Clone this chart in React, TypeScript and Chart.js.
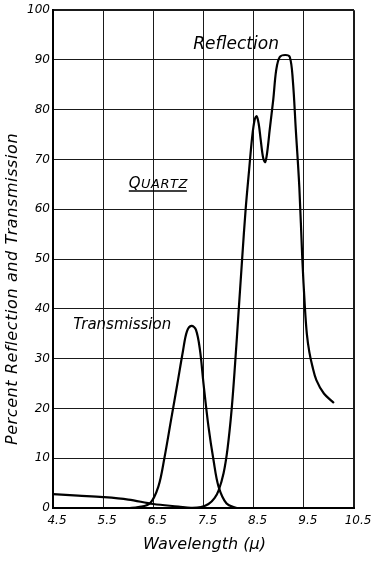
import React, { useEffect, useRef } from "react";
import { Chart, registerables } from "chart.js";

Chart.register(...registerables);

// Reflection curve (wavelength in microns, percent)
const reflX = [4.5, 5.0, 5.5, 6.0, 6.5, 7.0, 7.25, 7.45, 7.6, 7.72, 7.8, 7.9, 7.98, 8.06, 8.13, 8.2, 8.27, 8.34, 8.41, 8.47, 8.52, 8.56, 8.6, 8.64, 8.69, 8.73, 8.77, 8.82, 8.89, 8.95, 9.02, 9.13, 9.22, 9.28, 9.34, 9.41, 9.47, 9.52, 9.56, 9.61, 9.67, 9.75, 9.9, 10.1];
const reflY = [2.8, 2.5, 2.2, 1.7, 0.8, 0.3, 0.05, 0.2, 0.8, 2.0, 3.5, 7, 12, 19.7, 29, 39.5, 50, 60, 68, 74.5, 78, 78.7, 77.2, 74, 70.3, 69.5, 71.5, 76, 82, 88, 90.6, 91, 90.6, 86, 76, 64.5, 50, 40.5, 35, 31.3, 28.5, 25.7, 23, 21.1];

// Transmission curve
const transX = [6.0, 6.2, 6.43, 6.6, 6.72, 6.85, 6.98, 7.09, 7.17, 7.26, 7.35, 7.43, 7.5, 7.6, 7.7, 7.8, 7.96, 8.16];
const transY = [0, 0.2, 0.9, 4.3, 10, 17.5, 25, 31.5, 35.5, 36.6, 35.8, 31.7, 25, 16.3, 9.6, 4.3, 0.9, 0];

const xTicks = [4.5, 5.5, 6.5, 7.5, 8.5, 9.5, 10.5];
const yTicks = [0, 10, 20, 30, 40, 50, 60, 70, 80, 90, 100];

const FONT = "'DejaVu Sans', 'Liberation Sans', sans-serif";

const textPlugin = {
  id: "annotText",
  afterDraw(chart: any) {
    const ctx = chart.ctx as CanvasRenderingContext2D;
    const xs = chart.scales.x;
    const ys = chart.scales.y;
    const area = chart.chartArea;
    ctx.save();
    ctx.fillStyle = "#000";
    ctx.strokeStyle = "#000";
    ctx.textAlign = "center";
    ctx.textBaseline = "middle";

    // Reflection
    ctx.font = `oblique 17px ${FONT}`;
    ctx.fillText("Reflection", xs.getPixelForValue(8.15), ys.getPixelForValue(93.1));

    // Transmission
    ctx.font = `oblique 15px ${FONT}`;
    ctx.fillText("Transmission", xs.getPixelForValue(5.88), ys.getPixelForValue(36.7));

    // QUARTZ (small caps, underlined)
    const cx = xs.getPixelForValue(6.6);
    const by = ys.getPixelForValue(64.2);
    ctx.textAlign = "left";
    ctx.textBaseline = "alphabetic";
    (ctx as any).letterSpacing = "0.5px";
    ctx.font = `oblique 15px ${FONT}`;
    const wQ = ctx.measureText("Q").width;
    ctx.font = `oblique 13px ${FONT}`;
    const wR = ctx.measureText("UARTZ").width;
    const total = wQ + wR;
    const sx = cx - total / 2;
    ctx.font = `oblique 15px ${FONT}`;
    ctx.fillText("Q", sx, by);
    ctx.font = `oblique 13px ${FONT}`;
    ctx.fillText("UARTZ", sx + wQ, by);
    ctx.lineWidth = 1.5;
    ctx.beginPath();
    ctx.moveTo(sx, by + 2.5);
    ctx.lineTo(sx + total - 1, by + 2.5);
    ctx.stroke();
    (ctx as any).letterSpacing = "0px";

    // X axis title
    ctx.textAlign = "center";
    ctx.textBaseline = "middle";
    ctx.font = `oblique 16px ${FONT}`;
    ctx.fillText("Wavelength (\u03bc)", (area.left + area.right) / 2 + 1, area.bottom + 37);

    // Y axis title
    ctx.save();
    ctx.translate(13, ys.getPixelForValue(44));
    ctx.rotate(-Math.PI / 2);
    (ctx as any).letterSpacing = "0.6px";
    ctx.fillText("Percent Reflection and Transmission", 0, 0);
    ctx.restore();

    ctx.restore();
  },
};

export default function App() {
  const canvasRef = useRef<HTMLCanvasElement | null>(null);

  useEffect(() => {
    if (!canvasRef.current) return;
    const chart = new Chart(canvasRef.current, {
      type: "line",
      data: {
        datasets: [
          {
            label: "Reflection",
            data: reflX.map((x, i) => ({ x, y: reflY[i] })),
            borderColor: "#000",
            borderWidth: 2.2,
            pointRadius: 0,
            fill: false,
            tension: 0.35,
          },
          {
            label: "Transmission",
            data: transX.map((x, i) => ({ x, y: transY[i] })),
            borderColor: "#000",
            borderWidth: 2.2,
            pointRadius: 0,
            fill: false,
            tension: 0.35,
          },
        ],
      },
      options: {
        animation: false,
        responsive: true,
        maintainAspectRatio: false,
        layout: { padding: { top: 10, right: 20, left: 0, bottom: 0 } },
        plugins: {
          legend: { display: false },
          tooltip: { enabled: false },
        },
        scales: {
          x: {
            type: "linear",
            min: 4.5,
            max: 10.5,
            afterBuildTicks: (scale: any) => {
              scale.ticks = xTicks.map((v) => ({ value: v }));
            },
            afterFit: (scale: any) => {
              scale.height = 55;
            },
            ticks: {
              callback: (v: any) => Number(v).toFixed(1),
              font: { family: FONT, size: 12, style: "oblique" },
              color: "#000",
              padding: 6,
              labelOffset: 4,
              maxRotation: 0,
              autoSkip: false,
            },
            grid: {
              color: "#1a1a1a",
              lineWidth: (c: any) => (c.tick && c.tick.value === 10.5 ? 2 : 1),
              drawTicks: false,
            },
            border: { display: true, color: "#000", width: 2 },
          },
          y: {
            type: "linear",
            min: 0,
            max: 100,
            afterBuildTicks: (scale: any) => {
              scale.ticks = yTicks.map((v) => ({ value: v }));
            },
            afterFit: (scale: any) => {
              scale.width = 53;
            },
            ticks: {
              callback: (v: any) => String(v),
              font: { family: FONT, size: 12, style: "oblique" },
              color: "#000",
              padding: 3,
              autoSkip: false,
            },
            grid: {
              color: "#1a1a1a",
              lineWidth: (c: any) => (c.tick && c.tick.value === 100 ? 2 : 1),
              drawTicks: false,
            },
            border: { display: true, color: "#000", width: 2 },
          },
        },
      },
      plugins: [textPlugin],
    } as any);
    return () => chart.destroy();
  }, []);

  return (
    <div style={{ position: "absolute", left: 0, top: 0, width: 374, height: 563, background: "#fff" }}>
      <canvas ref={canvasRef} />
    </div>
  );
}
